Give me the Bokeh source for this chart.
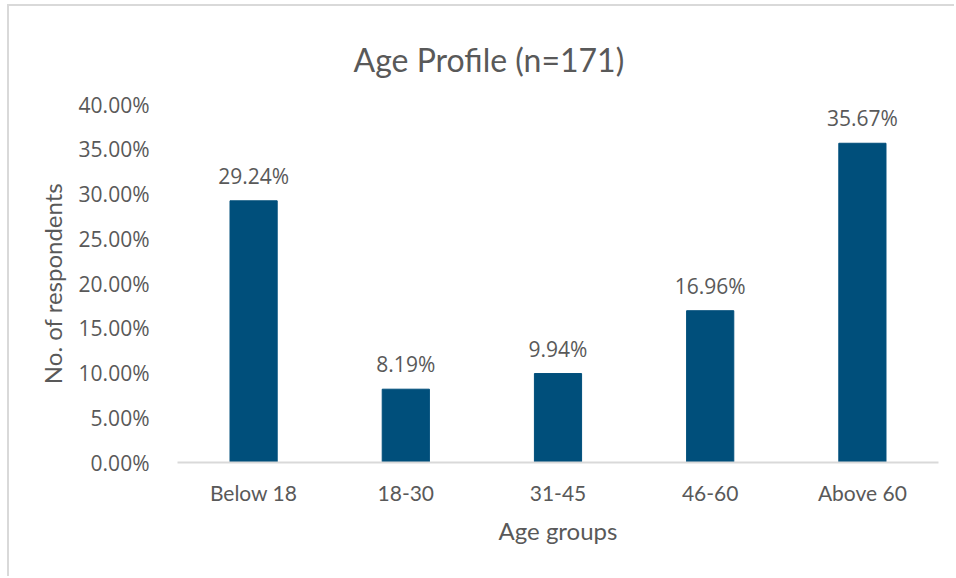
from bokeh.plotting import figure
from bokeh.models import ColumnDataSource, FixedTicker, Range1d, CustomJSTickFormatter
from bokeh.core.properties import value
from bokeh.embed import file_html
from bokeh.resources import INLINE

title_text = "Age Profile (n=171)"
categories = ["Below 18", "18-30", "31-45", "46-60", "Above 60"]
shares = [29.24, 8.19, 9.94, 16.96, 35.67]
y_ticks = [0, 5, 10, 15, 20, 25, 30, 35, 40]

GREY = "#595959"
BAR = "#004F7B"

src = ColumnDataSource(dict(
    cat=categories,
    val=shares,
    lab=[f"{v:.2f}%" for v in shares],
))

p = figure(
    x_range=categories, y_range=Range1d(0, 40),
    width=947, height=572, output_backend="svg", toolbar_location=None,
    min_border_left=168, min_border_right=18, min_border_top=98, min_border_bottom=116,
    title=title_text,
)
p.margin = (4, 0, 0, 7)
p.styles = {"border-top": "2px solid #D9D9D9", "border-left": "2px solid #D9D9D9"}
p.outline_line_color = None
p.background_fill_color = "white"
p.border_fill_color = "white"

p.vbar(x="cat", top="val", width=0.31, source=src, fill_color=BAR, line_color=BAR)
p.text(x="cat", y="val", text="lab", source=src, text_align="center",
       text_baseline="alphabetic", y_offset=-25, text_font=value("Open Sans"),
       text_font_size="21px", text_color=GREY)

p.title.align = "left"
p.title.offset = 176
p.title.standoff = 52
p.title.text_font = "Lato"
p.title.text_font_size = "32px"
p.title.text_font_style = "normal"
p.title.text_color = GREY

p.xgrid.grid_line_color = None
p.ygrid.grid_line_color = None

p.yaxis.ticker = FixedTicker(ticks=y_ticks)
p.yaxis.formatter = CustomJSTickFormatter(code="return tick.toFixed(2) + '%';")
p.yaxis.axis_line_color = None
p.yaxis.major_tick_line_color = None
p.yaxis.minor_tick_line_color = None
p.yaxis.major_label_text_font = "Open Sans"
p.yaxis.major_label_text_font_size = "21px"
p.yaxis.major_label_text_color = GREY
p.yaxis.major_label_standoff = 22
p.yaxis.axis_label = "No. of respondents"
p.yaxis.axis_label_text_font = "Lato"
p.yaxis.axis_label_text_font_size = "24px"
p.yaxis.axis_label_text_font_style = "normal"
p.yaxis.axis_label_text_color = GREY
p.yaxis.axis_label_standoff = 9

p.xaxis.axis_line_color = "#D9D9D9"
p.xaxis.axis_line_width = 2
p.xaxis.major_tick_line_color = None
p.xaxis.minor_tick_line_color = None
p.xaxis.major_label_text_font = "Lato"
p.xaxis.major_label_text_font_size = "21px"
p.xaxis.major_label_text_color = GREY
p.xaxis.major_label_standoff = 11
p.xaxis.axis_label = "Age groups"
p.xaxis.axis_label_text_font = "Lato"
p.xaxis.axis_label_text_font_size = "24px"
p.xaxis.axis_label_text_font_style = "normal"
p.xaxis.axis_label_text_color = GREY
p.xaxis.axis_label_standoff = 8

open("out.html", "w").write(file_html(p, INLINE))
